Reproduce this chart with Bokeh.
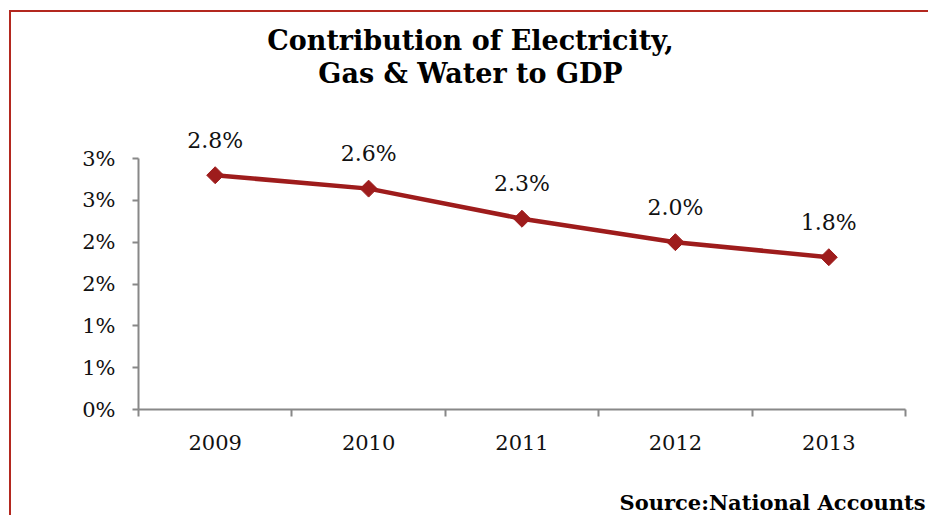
import math
from bokeh.plotting import figure
from bokeh.models import FixedTicker, Label, Range1d, ColumnDataSource
from bokeh.core.properties import value
from bokeh.embed import file_html
from bokeh.resources import INLINE

years = ["2009", "2010", "2011", "2012", "2013"]
shares = [2.8, 2.64, 2.28, 2.0, 1.82]
share_labels = ["2.8%", "2.6%", "2.3%", "2.0%", "1.8%"]
y_ticks = [0, 0.5, 1.0, 1.5, 2.0, 2.5, 3.0]
y_tick_labels = ["0%", "1%", "1%", "2%", "2%", "3%", "3%"]
title_lines = ["Contribution of Electricity,", "Gas & Water to GDP"]
source_note = "Source:National Accounts"

FONT = "DejaVu Serif"
RED = "#9e1c1c"
BORDER = "#b3281f"
AXIS = "#888888"
TXT = "#111111"

# canvas layout (pixels inside the bordered canvas)
W, H = 919, 505
AX_L, AX_R, AX_T, AX_B = 127, 894, 146, 397
Y_MAX = 3.0
n = len(years)
px_x = (AX_R - AX_L) / n
px_y = (AX_B - AX_T) / Y_MAX

xs = [i + 0.5 for i in range(n)]
src = ColumnDataSource(dict(x=xs, y=shares, lab=share_labels))

p = figure(width=W, height=H, output_backend="svg", toolbar_location=None,
           x_range=Range1d(-AX_L / px_x, n + (W - AX_R) / px_x),
           y_range=Range1d(-(H - AX_B) / px_y, Y_MAX + AX_T / px_y),
           min_border=0)
p.outline_line_color = None
p.xgrid.visible = False
p.ygrid.visible = False

# y axis
p.yaxis.fixed_location = 0
p.yaxis.bounds = (0, Y_MAX)
p.yaxis.ticker = FixedTicker(ticks=y_ticks)
p.yaxis.major_label_overrides = {t: l for t, l in zip(y_ticks, y_tick_labels)}
p.yaxis.minor_tick_line_color = None
p.yaxis.major_tick_in = 0
p.yaxis.major_tick_out = 6
p.yaxis.axis_line_color = AXIS
p.yaxis.axis_line_width = 2
p.yaxis.major_tick_line_color = AXIS
p.yaxis.major_tick_line_width = 2
p.yaxis.major_label_text_font = FONT
p.yaxis.major_label_text_font_size = "21px"
p.yaxis.major_label_text_color = TXT
p.yaxis.major_label_standoff = 17

# x axis: labels at centres, ticks at category boundaries
p.xaxis.fixed_location = 0
p.xaxis.bounds = (0, n)
p.xaxis.ticker = FixedTicker(ticks=xs, minor_ticks=list(range(n + 1)))
p.xaxis.major_label_overrides = {x: y for x, y in zip(xs, years)}
p.xaxis.major_tick_in = 0
p.xaxis.major_tick_out = 0
p.xaxis.minor_tick_in = 0
p.xaxis.minor_tick_out = 7
p.xaxis.minor_tick_line_color = AXIS
p.xaxis.minor_tick_line_width = 2
p.xaxis.axis_line_color = AXIS
p.xaxis.axis_line_width = 2
p.xaxis.major_label_text_font = FONT
p.xaxis.major_label_text_font_size = "21px"
p.xaxis.major_label_text_color = TXT
p.xaxis.major_label_standoff = 18

p.line("x", "y", source=src, line_color=RED, line_width=4.5)
p.scatter("x", "y", source=src, marker="square", angle=math.pi / 4, size=12,
          fill_color=RED, line_color=RED)
p.text("x", "y", text="lab", source=src, y_offset=-35, text_align="center",
       text_baseline="middle", text_font=value(FONT), text_font_size="22px",
       text_color=TXT)

for i, line in enumerate(title_lines):
    p.add_layout(Label(x=459, y=H - 28 - 33 * i, x_units="screen", y_units="screen",
                       text=line, text_align="center", text_baseline="middle",
                       text_font=FONT, text_font_style="bold",
                       text_font_size="27px", text_color="#000000"))

p.add_layout(Label(x=914, y=15, x_units="screen", y_units="screen",
                   text=source_note, text_align="right", text_baseline="middle",
                   text_font=FONT, text_font_style="bold",
                   text_font_size="21px", text_color="#000000"))

p.styles = {"margin-left": "9px", "margin-top": "10px",
            "border-left": "2px solid " + BORDER, "border-top": "2px solid " + BORDER}

open("out.html", "w").write(file_html(p, INLINE))
